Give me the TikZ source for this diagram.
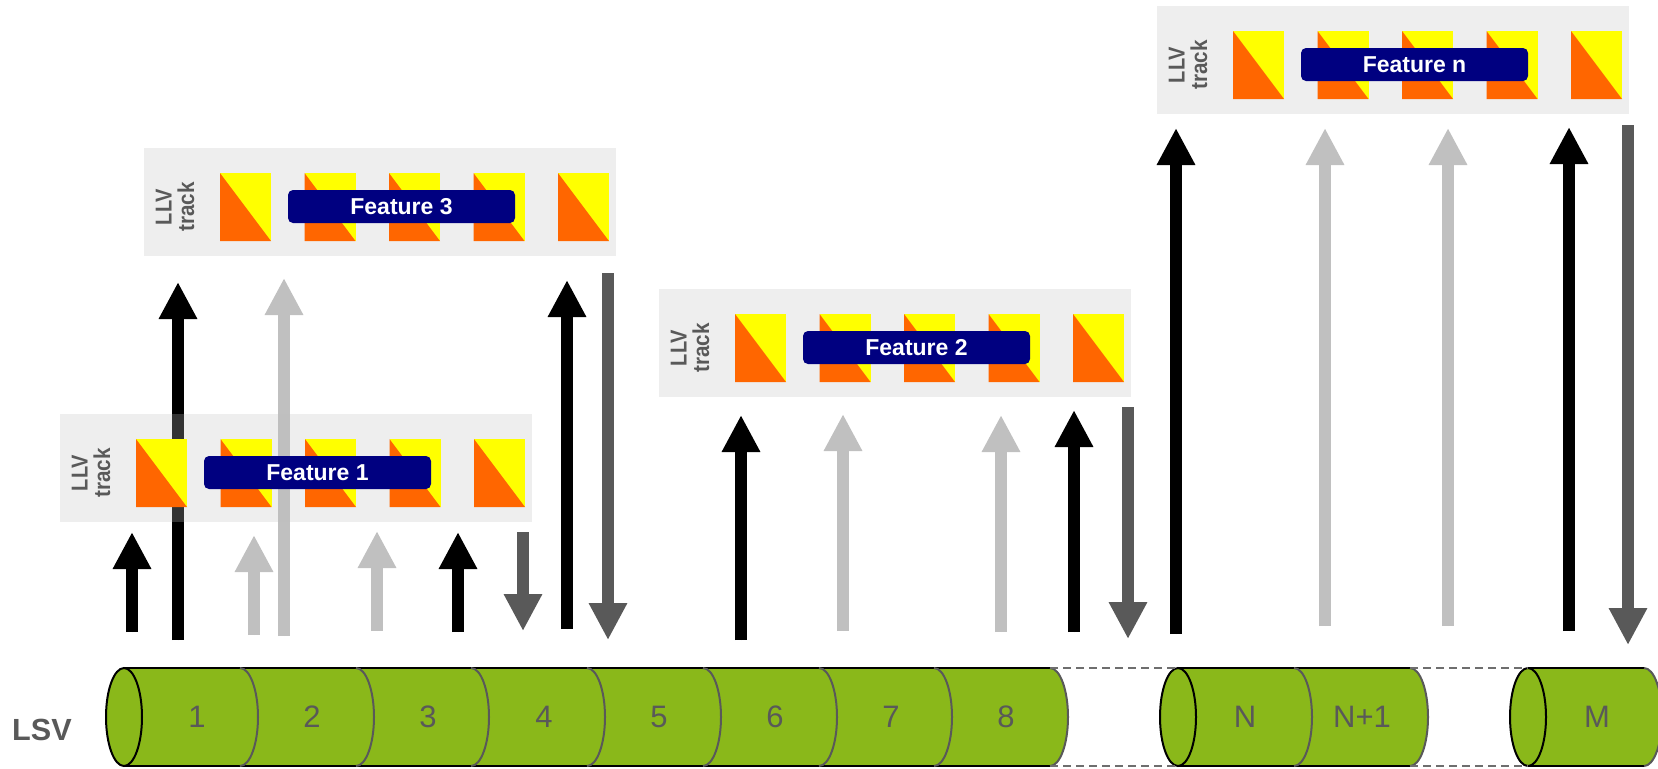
\documentclass[tikz,border=0pt]{standalone}
\usepackage{graphicx}
\usepackage{fontspec}
\setmainfont{Liberation Sans}
\usetikzlibrary{arrows.meta}
\definecolor{txtgray}{HTML}{595959}
\definecolor{boxbase}{HTML}{BFBFBF}
\definecolor{featnavy}{HTML}{000080}
\definecolor{sqorange}{HTML}{FF6600}
\definecolor{sqyellow}{HTML}{FFFF00}
\definecolor{lgray}{HTML}{C0C0C0}
\definecolor{dgray}{HTML}{595959}
\definecolor{lsvgreen}{HTML}{8AB81A}
\definecolor{dashgray}{HTML}{6E6E6E}
\tikzset{
  featbg/.style={fill=boxbase, fill opacity=0.27, draw=none, inner sep=0pt,
    minimum width=236pt, minimum height=54pt, anchor=north west},
  featlbl/.style={fill=featnavy, text=white, font=\bfseries\fontsize{11.5}{12}\selectfont,
    rounded corners=2.5pt, minimum width=113.5pt, minimum height=16.5pt, inner sep=0pt},
  llvtxt/.style={rotate=90, text=txtgray, font=\bfseries\fontsize{11.5}{11.2}\selectfont,
    align=center, inner sep=0pt},
  arrowline/.style={line width=6pt, line cap=butt, -{Triangle[width=18pt,length=18.5pt]}},
  numlbl/.style={text=txtgray, font=\fontsize{15.5}{16}\selectfont, inner sep=0pt},
  lsvtxt/.style={text=txtgray, font=\bfseries\fontsize{15.3}{16}\selectfont, inner sep=0pt},
  arcline/.style={draw=dgray, line width=1pt},
  rimline/.style={draw=black, line width=1pt},
  gapline/.style={draw=dashgray, line width=0.8pt, dash pattern=on 4pt off 2.5pt},
}
\newcommand\featbox[4]{%
  \node[featbg] (#1) at (#2,#3) {};
  \foreach \k in {0,...,4}{
    \fill[sqyellow] ({#2+76+84.5*\k},{#3+25}) rectangle +(51,68);
    \fill[sqorange] ({#2+76+84.5*\k},{#3+25}) -- +(0,68) -- +(51,68) -- cycle;
  }
  \node[llvtxt] (#1-llv) at ({#2+31},{#3+59}) {\scalebox{0.87}[1]{LLV}\\\scalebox{0.9}[1]{track}};
  \node[featlbl] (#1-lbl) at ({#2+257.5},{#3+58.5}) {#4};
}
\newcommand\myarr[5]{%
  \coordinate (#1s) at (#3,#4);
  \coordinate (#1e) at (#3,#5);
  \draw[arrowline, draw=#2, fill=#2] (#1s) -- (#1e);
}
\newcommand\hellpath[1]{(#1,668) .. controls +(9.94,0) and +(0,-27.06) .. ({#1+18},717) .. controls +(0,27.06) and +(9.94,0) .. (#1,766)}
\begin{document}
\begin{tikzpicture}[x=0.5pt, y=-0.5pt]
\useasboundingbox (0,0) rectangle (1658,768);

% arrows (drawn first; the translucent track boxes lie over them)
\myarr{a1}{black}{132}{632}{532}
\myarr{a2}{black}{178}{640}{282}
\myarr{a3}{lgray}{254}{635}{535}
\myarr{a4}{lgray}{284}{636}{278}
\myarr{a5}{lgray}{377}{631}{531}
\myarr{a6}{black}{458}{632}{532}
\myarr{a7}{dgray}{523}{532}{631}
\myarr{a8}{black}{567}{629}{280}
\myarr{a9}{dgray}{608}{273}{640}
\myarr{a10}{black}{741}{640}{415}
\myarr{a11}{lgray}{843}{631}{414}
\myarr{a12}{lgray}{1001}{632}{415}
\myarr{a13}{black}{1074}{632}{410}
\myarr{a14}{dgray}{1128}{407}{639}
\myarr{a15}{black}{1176}{634}{128}
\myarr{a16}{lgray}{1325}{626}{128}
\myarr{a17}{lgray}{1448}{626}{128}
\myarr{a18}{black}{1569}{631}{127}
\myarr{a19}{dgray}{1628}{125}{645}

% feature boxes
\featbox{f1}{60}{414}{Feature 1}
\featbox{f3}{144}{148}{Feature 3}
\featbox{f2}{659}{289}{Feature 2}
\featbox{fn}{1157}{6}{Feature n}

% LSV cylinder: first piece 1..8
\fill[lsvgreen] (124,668) -- \hellpath{1050} -- (124,766) -- cycle;
\draw[rimline] (124,668) -- (1050,668);
\draw[rimline] (124,766) -- (1050,766);
\foreach \b in {240,356,471,587,703,819,934,1050}{
  \draw[arcline] \hellpath{\b};
}
\draw[rimline, fill=lsvgreen] (124,717) ellipse [x radius=18, y radius=49];

% piece N, N+1
\fill[lsvgreen] (1178,668) -- \hellpath{1410} -- (1178,766) -- cycle;
\draw[rimline] (1178,668) -- (1410,668);
\draw[rimline] (1178,766) -- (1410,766);
\foreach \b in {1294,1410}{
  \draw[arcline] \hellpath{\b};
}
\draw[rimline, fill=lsvgreen] (1178,717) ellipse [x radius=18, y radius=49];

% piece M
\fill[lsvgreen] (1528,668) -- \hellpath{1644} -- (1528,766) -- cycle;
\draw[rimline] (1528,668) -- (1644,668);
\draw[rimline] (1528,766) -- (1644,766);
\draw[arcline] \hellpath{1644};
\draw[rimline, fill=lsvgreen] (1528,717) ellipse [x radius=18, y radius=49];

% gaps
\coordinate (g1a) at (1050,668); \coordinate (g1b) at (1178,668);
\coordinate (g1c) at (1050,766); \coordinate (g1d) at (1178,766);
\coordinate (g2a) at (1410,668); \coordinate (g2b) at (1528,668);
\coordinate (g2c) at (1410,766); \coordinate (g2d) at (1528,766);
\draw[gapline] (g1a) -- (g1b);
\draw[gapline] (g1c) -- (g1d);
\draw[gapline] (g2a) -- (g2b);
\draw[gapline] (g2c) -- (g2d);

% segment labels
\node[numlbl] (s1) at (197,717) {1};
\node[numlbl] (s2) at (312,717) {2};
\node[numlbl] (s3) at (428,717) {3};
\node[numlbl] (s4) at (544,717) {4};
\node[numlbl] (s5) at (659,717) {5};
\node[numlbl] (s6) at (775,717) {6};
\node[numlbl] (s7) at (891,717) {7};
\node[numlbl] (s8) at (1006,717) {8};
\node[numlbl] (sN) at (1245,717) {N};
\node[numlbl] (sN1) at (1362,717) {N+1};
\node[numlbl] (sM) at (1597,717) {M};

\node[lsvtxt] (lsv) at (42,730) {LSV};
\end{tikzpicture}
\end{document}
